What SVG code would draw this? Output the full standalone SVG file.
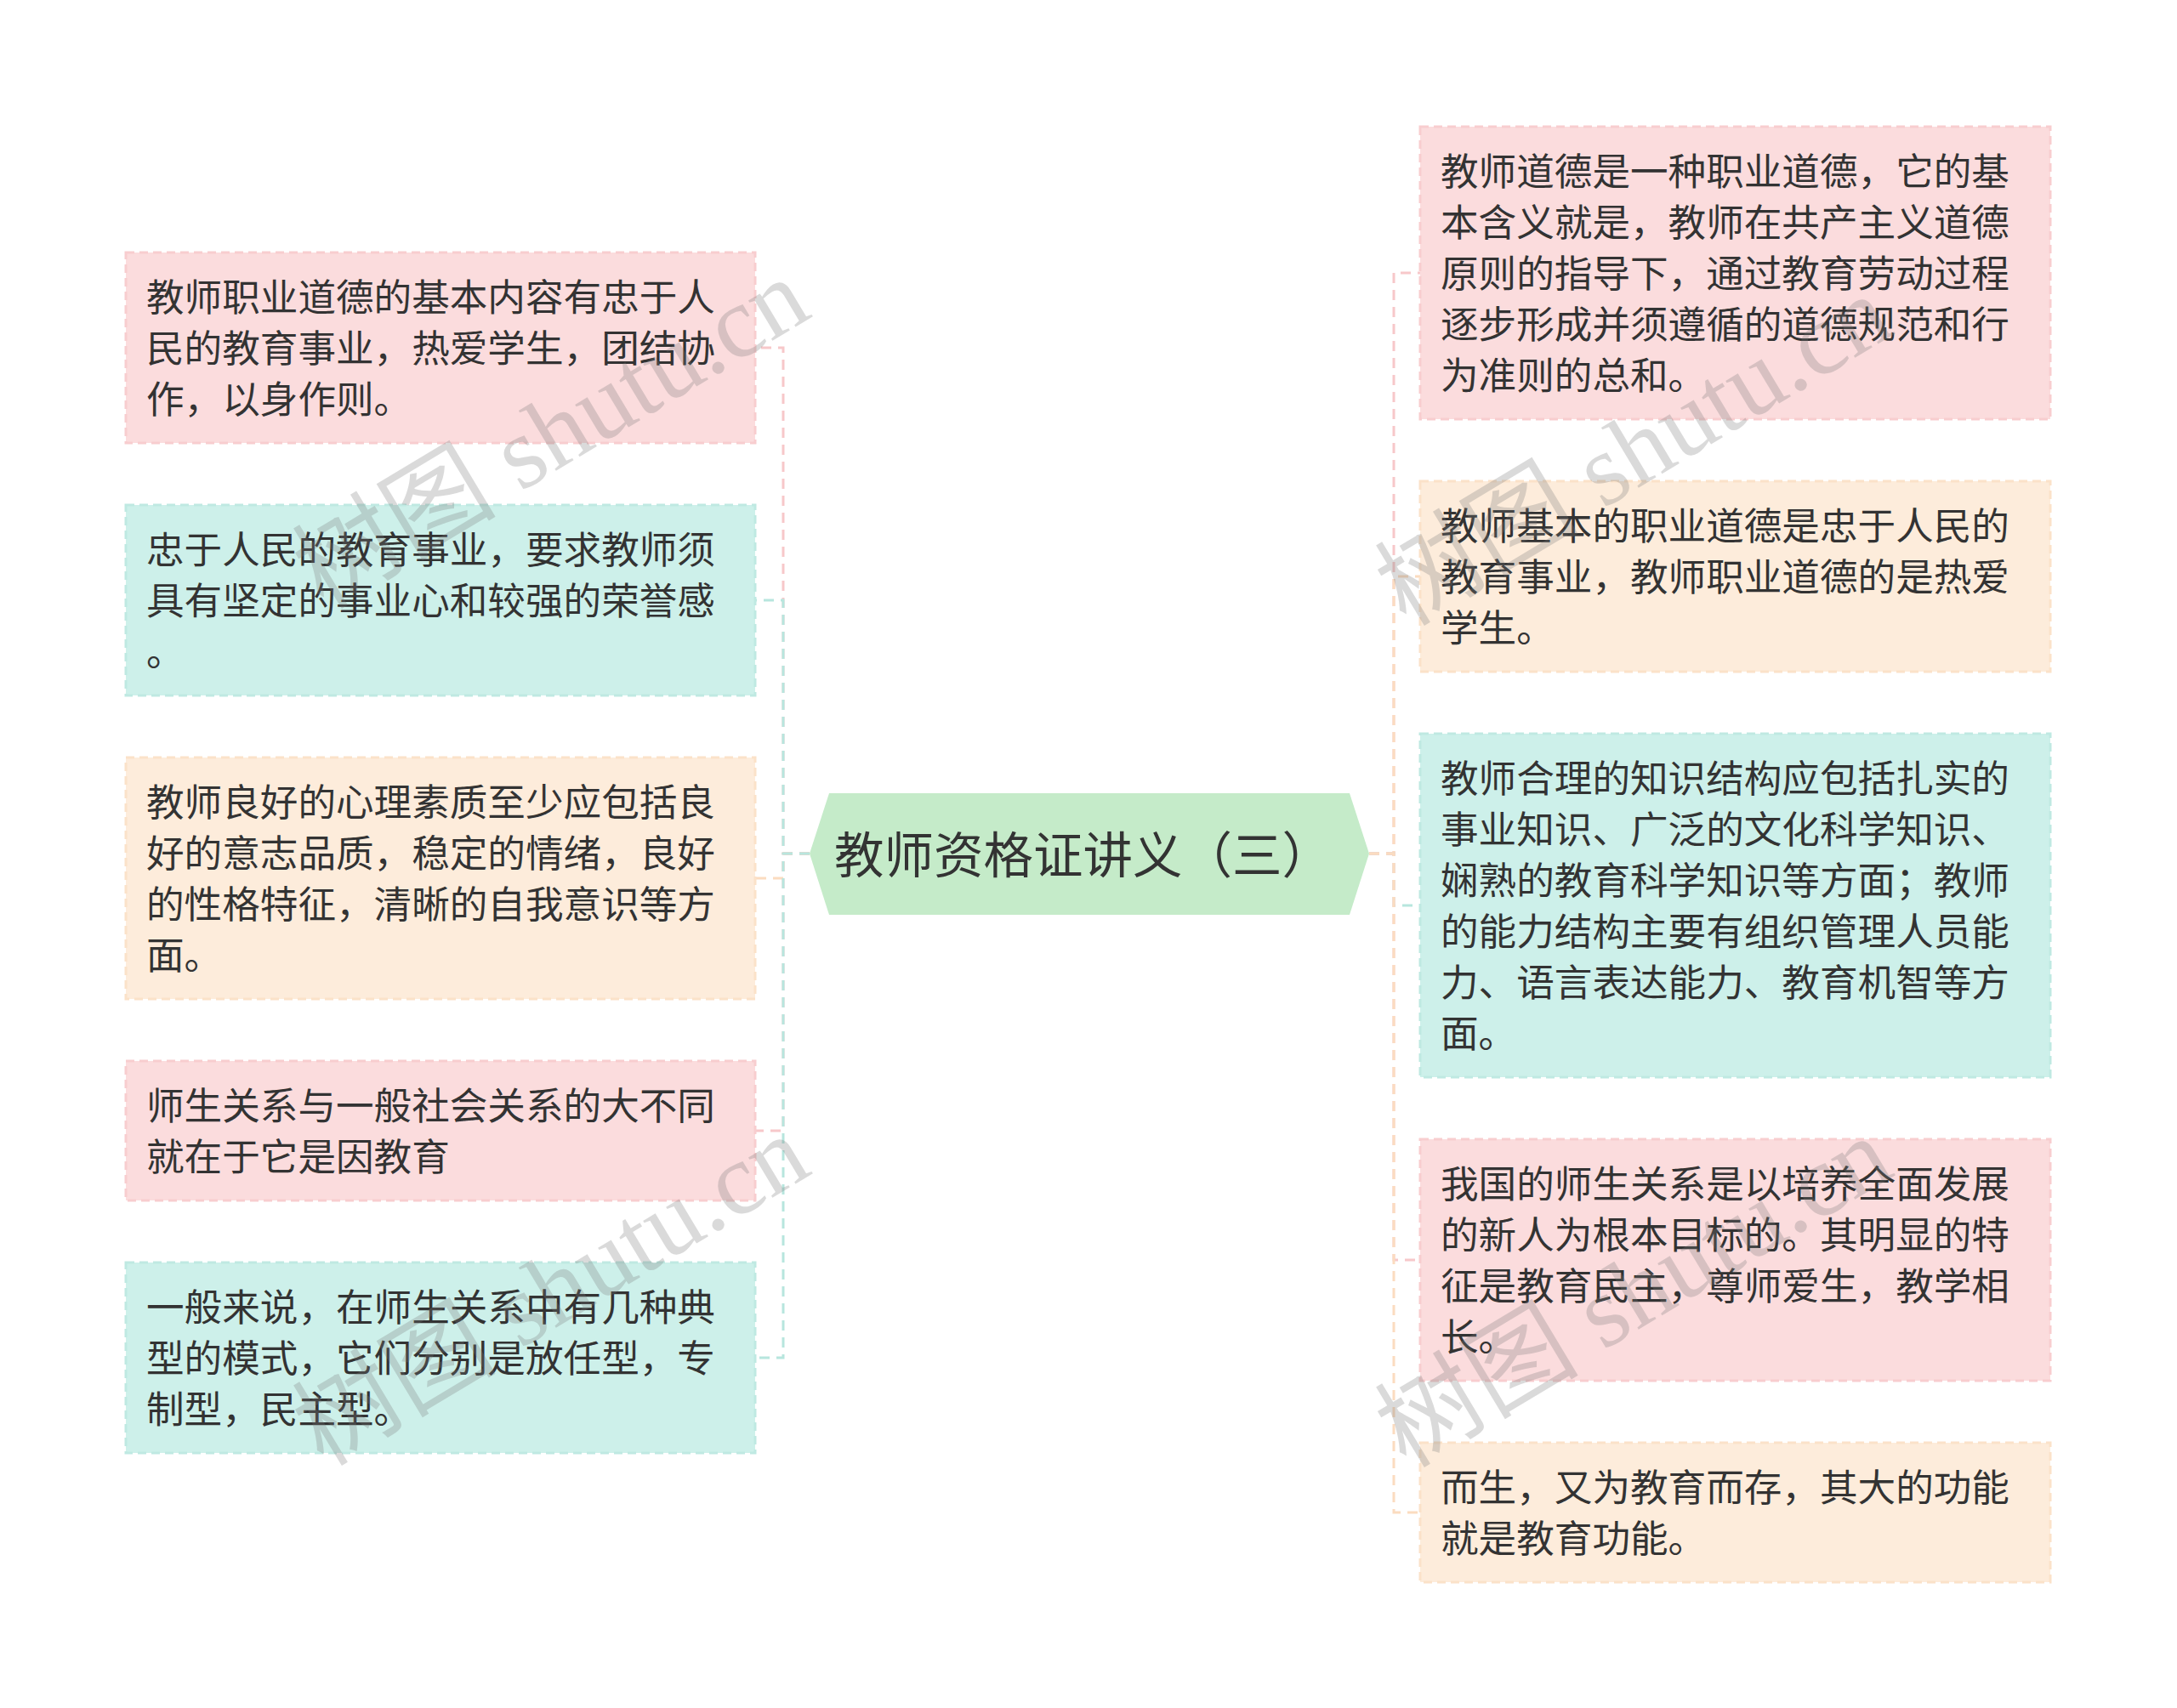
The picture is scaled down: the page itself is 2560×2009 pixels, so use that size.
<svg xmlns="http://www.w3.org/2000/svg" width="2560" height="2009" viewBox="0 0 2560 2009">
<style>
.bg{fill:#ffffff}
.t{font-family:"Noto Sans CJK SC","Noto Sans",sans-serif;font-size:44.6px;fill:#333333}
.ct{font-family:"Noto Sans CJK SC","Noto Sans",sans-serif;font-size:58.5px;fill:#333333}
.pink{fill:#fbdcdd;stroke:#f8cdcf;stroke-width:3;stroke-dasharray:10 6}
.teal{fill:#cdf0ea;stroke:#bfe9e2;stroke-width:3;stroke-dasharray:10 6}
.peach{fill:#fdecdb;stroke:#fbe2c9;stroke-width:3;stroke-dasharray:10 6}
.c{fill:none;stroke-width:3;stroke-dasharray:12 8}
.cp{stroke:#f7c8ca}
.ctl{stroke:#b7e6de}
.cpe{stroke:#fbdcc0}
.wm{font-family:"Liberation Serif","Noto Sans CJK SC",serif;font-size:120px;fill:#7a7a7a;fill-opacity:0.28}
</style>
<rect class="bg" x="0" y="0" width="2560" height="2009"/>
<g id="connectors">
<path class="c cp" d="M952,1004 H921 V409 H888"/>
<path class="c ctl" d="M952,1004 H921 V706 H888"/>
<path class="c cpe" d="M952,1004 H921 V1033 H888"/>
<path class="c cp" d="M952,1004 H921 V1330 H888"/>
<path class="c ctl" d="M952,1004 H921 V1597 H888"/>
<path class="c cp" d="M1610,1004 H1639 V321 H1670"/>
<path class="c cpe" d="M1610,1004 H1639 V678 H1670"/>
<path class="c ctl" d="M1610,1004 H1639 V1065 H1670"/>
<path class="c cp" d="M1610,1004 H1639 V1482 H1670"/>
<path class="c cpe" d="M1610,1004 H1639 V1779 H1670"/>
</g>
<g id="center">
<polygon points="952,1004 975,933 1587,933 1610,1004 1587,1076 975,1076" fill="#c5ebc9"/>
<text class="ct" x="981" y="1027">教师资格证讲义（三）</text>
</g>
<g id="left1">
<rect class="pink" x="148" y="297" width="740" height="224"/>
<text class="t" x="172" y="366">教师职业道德的基本内容有忠于人</text>
<text class="t" x="172" y="426">民的教育事业，热爱学生，团结协</text>
<text class="t" x="172" y="486">作，以身作则。</text>
</g>
<g id="left2">
<rect class="teal" x="148" y="594" width="740" height="224"/>
<text class="t" x="172" y="663">忠于人民的教育事业，要求教师须</text>
<text class="t" x="172" y="723">具有坚定的事业心和较强的荣誉感</text>
<text class="t" x="172" y="783">。</text>
</g>
<g id="left3">
<rect class="peach" x="148" y="891" width="740" height="284"/>
<text class="t" x="172" y="960">教师良好的心理素质至少应包括良</text>
<text class="t" x="172" y="1020">好的意志品质，稳定的情绪，良好</text>
<text class="t" x="172" y="1080">的性格特征，清晰的自我意识等方</text>
<text class="t" x="172" y="1140">面。</text>
</g>
<g id="left4">
<rect class="pink" x="148" y="1248" width="740" height="164"/>
<text class="t" x="172" y="1317">师生关系与一般社会关系的大不同</text>
<text class="t" x="172" y="1377">就在于它是因教育</text>
</g>
<g id="left5">
<rect class="teal" x="148" y="1485" width="740" height="224"/>
<text class="t" x="172" y="1554">一般来说，在师生关系中有几种典</text>
<text class="t" x="172" y="1614">型的模式，它们分别是放任型，专</text>
<text class="t" x="172" y="1674">制型，民主型。</text>
</g>
<g id="right1">
<rect class="pink" x="1670" y="149" width="741" height="344"/>
<text class="t" x="1694" y="218">教师道德是一种职业道德，它的基</text>
<text class="t" x="1694" y="278">本含义就是，教师在共产主义道德</text>
<text class="t" x="1694" y="338">原则的指导下，通过教育劳动过程</text>
<text class="t" x="1694" y="398">逐步形成并须遵循的道德规范和行</text>
<text class="t" x="1694" y="458">为准则的总和。</text>
</g>
<g id="right2">
<rect class="peach" x="1670" y="566" width="741" height="224"/>
<text class="t" x="1694" y="635">教师基本的职业道德是忠于人民的</text>
<text class="t" x="1694" y="695">教育事业，教师职业道德的是热爱</text>
<text class="t" x="1694" y="755">学生。</text>
</g>
<g id="right3">
<rect class="teal" x="1670" y="863" width="741" height="404"/>
<text class="t" x="1694" y="932">教师合理的知识结构应包括扎实的</text>
<text class="t" x="1694" y="992">事业知识、广泛的文化科学知识、</text>
<text class="t" x="1694" y="1052">娴熟的教育科学知识等方面；教师</text>
<text class="t" x="1694" y="1112">的能力结构主要有组织管理人员能</text>
<text class="t" x="1694" y="1172">力、语言表达能力、教育机智等方</text>
<text class="t" x="1694" y="1232">面。</text>
</g>
<g id="right4">
<rect class="pink" x="1670" y="1340" width="741" height="284"/>
<text class="t" x="1694" y="1409">我国的师生关系是以培养全面发展</text>
<text class="t" x="1694" y="1469">的新人为根本目标的。其明显的特</text>
<text class="t" x="1694" y="1529">征是教育民主，尊师爱生，教学相</text>
<text class="t" x="1694" y="1589">长。</text>
</g>
<g id="right5">
<rect class="peach" x="1670" y="1697" width="741" height="164"/>
<text class="t" x="1694" y="1766">而生，又为教育而存，其大的功能</text>
<text class="t" x="1694" y="1826">就是教育功能。</text>
</g>
<g id="watermark">
<text class="wm" text-anchor="middle" dominant-baseline="central" transform="translate(648,510) rotate(-31)">树图 shutu.cn</text>
<text class="wm" text-anchor="middle" dominant-baseline="central" transform="translate(1921,530) rotate(-31)">树图 shutu.cn</text>
<text class="wm" text-anchor="middle" dominant-baseline="central" transform="translate(648,1518) rotate(-31)">树图 shutu.cn</text>
<text class="wm" text-anchor="middle" dominant-baseline="central" transform="translate(1921,1520) rotate(-31)">树图 shutu.cn</text>
</g>
</svg>
